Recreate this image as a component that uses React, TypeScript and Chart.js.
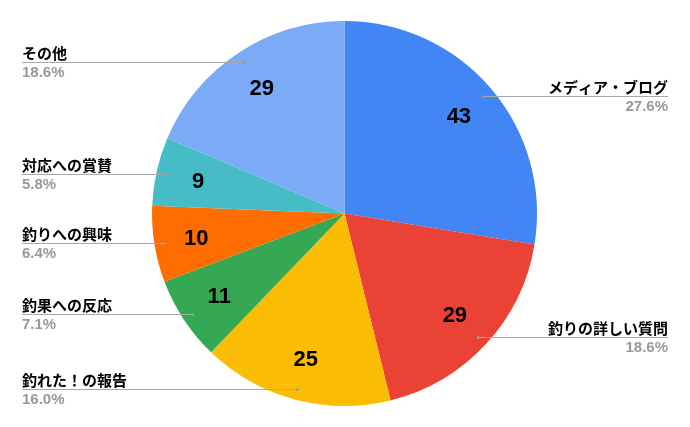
import { useEffect, useRef } from 'react';
import Chart from 'chart.js/auto';

const categories = ['メディア・ブログ', '釣りの詳しい質問', '釣れた！の報告', '釣果への反応', '釣りへの興味', '対応への賞賛', 'その他'];
const counts = [43, 29, 25, 11, 10, 9, 29];
const colors = ['#4285F4', '#EA4335', '#FBBC04', '#34A853', '#FF6D01', '#46BDC6', '#7BAAF7'];

const FONT = '"Liberation Sans", Arial, "Noto Sans CJK JP", sans-serif';

const pieLabels = {
  id: 'pieLabels',
  afterDatasetsDraw(chart: any) {
    const ctx = chart.ctx;
    const meta = chart.getDatasetMeta(0);
    const total = counts.reduce((a, b) => a + b, 0);
    ctx.save();
    meta.data.forEach((arc: any, i: number) => {
      const { x, y, startAngle, endAngle, outerRadius } = arc.getProps(['x', 'y', 'startAngle', 'endAngle', 'outerRadius'], true);
      const mid = (startAngle + endAngle) / 2;

      // value inside slice
      const vr = outerRadius * 0.78;
      ctx.fillStyle = '#000000';
      ctx.font = `bold 22px ${FONT}`;
      ctx.textAlign = 'center';
      ctx.textBaseline = 'middle';
      ctx.fillText(String(counts[i]), x + Math.cos(mid) * vr, y + Math.sin(mid) * vr + 1);

      // leader line + label
      const lr = outerRadius * 0.945;
      const px = x + Math.cos(mid) * lr;
      const py = Math.round(y + Math.sin(mid) * lr) + 0.5;
      const right = Math.cos(mid) > 0;
      const ex = right ? 668 : 22;
      ctx.strokeStyle = '#a8a8a8';
      ctx.lineWidth = 1;
      ctx.beginPath();
      ctx.moveTo(px, py);
      ctx.lineTo(ex, py);
      ctx.stroke();
      ctx.fillStyle = '#9a9a9a';
      ctx.beginPath();
      ctx.arc(px, py, 1.5, 0, Math.PI * 2);
      ctx.fill();

      ctx.textAlign = right ? 'right' : 'left';
      ctx.fillStyle = '#000000';
      ctx.font = `bold 15px ${FONT}`;
      ctx.textBaseline = 'alphabetic';
      ctx.fillText(categories[i], ex, py - 4);
      ctx.fillStyle = '#999999';
      ctx.font = `bold 15px ${FONT}`;
      ctx.textBaseline = 'top';
      ctx.fillText(((counts[i] / total) * 100).toFixed(1) + '%', ex, py + 3);
    });
    ctx.restore();
  },
};

const App = () => {
  const chartRef = useRef<HTMLCanvasElement>(null);

  useEffect(() => {
    document.body.style.margin = '0';
    const ctx = chartRef.current?.getContext('2d');
    if (!ctx) return;

    const chartInstance = new Chart(ctx, {
      type: 'pie',
      data: {
        labels: categories,
        datasets: [
          {
            data: counts,
            backgroundColor: colors,
            borderWidth: 0,
          },
        ],
      },
      options: {
        responsive: false,
        animation: false,
        layout: { padding: { top: 21, bottom: 21, left: 0, right: 1 } },
        plugins: {
          legend: { display: false },
          tooltip: { enabled: false },
        },
      },
      plugins: [pieLabels],
    });

    return () => chartInstance.destroy();
  }, []);

  return (
    <div style={{ position: 'absolute', top: 0, left: 0, width: 690, height: 427, background: '#fff' }}>
      <canvas ref={chartRef} width={690} height={427} style={{ width: 690, height: 427 }} />
    </div>
  );
};

export default App;
